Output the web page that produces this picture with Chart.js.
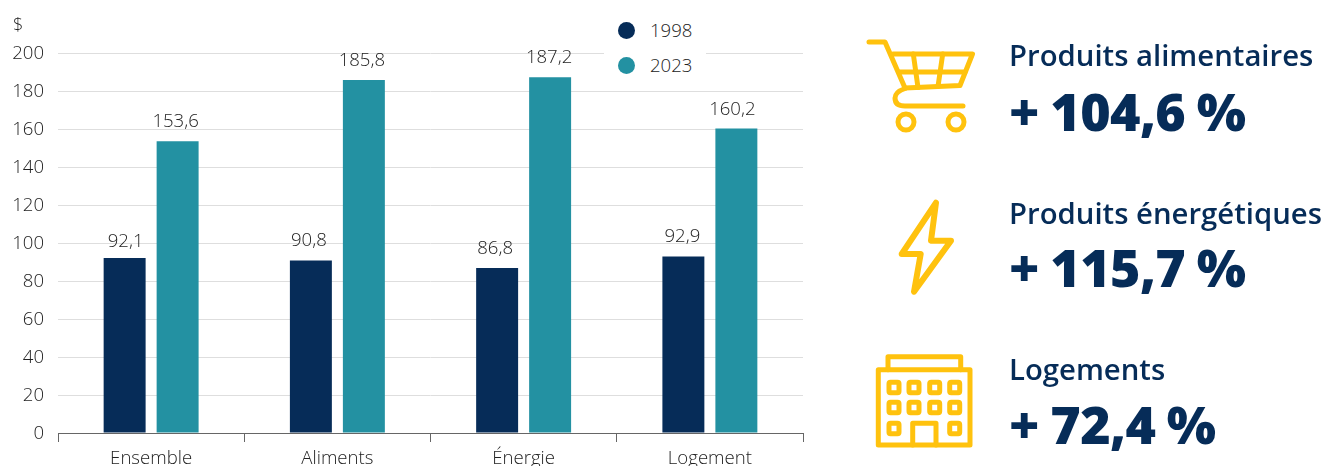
<!DOCTYPE html>
<html lang="fr">
<head>
<meta charset="utf-8">
<title>Prix 1998 et 2023</title>
<script src="https://cdn.jsdelivr.net/npm/chart.js@4"></script>
<style>
  html, body { margin: 0; padding: 0; background: #fff; width: 1325px; height: 466px; overflow: hidden; }
  body { position: relative; font-family: "Open Sans", sans-serif; }
  canvas { position: absolute; left: 0; top: 0; }
  .t { position: absolute; white-space: nowrap; line-height: 1; }
  .unit { left: 13px; top: 15px; font-size: 18px; font-weight: 300; color: #222; }
  .legend { position: absolute; left: 604px; top: 14px; width: 102px; height: 66px; background: #fff; }
  .legend i { position: absolute; left: 14px; width: 17px; height: 17px; border-radius: 50%; }
  .legend span { position: absolute; left: 46px; font-size: 18.6px; font-weight: 300; line-height: 1; color: #222; }
  .head { left: 1009px; font-size: 29.3px; font-weight: 600; color: #062c58; }
  .big { left: 1009px; font-size: 52px; font-weight: 800; word-spacing: -1.5px; letter-spacing: -0.6px; color: #062c58; }
  svg { position: absolute; left: 0; top: 0; }
  svg * { fill: none; stroke: #ffc20e; stroke-width: 5; stroke-linecap: round; stroke-linejoin: round; }
  svg .bolt { stroke-width: 6; }
</style>
</head>
<body>
<canvas id="chart" width="1325" height="466"></canvas>
<div class="t unit">$</div>
<div class="legend" id="legend"></div>

<svg width="1325" height="466" viewBox="0 0 1325 466">
  <!-- panier -->
  <path d="M869 42H885L905 88L960 85.5L972.5 54H893"/>
  <path d="M899 72H965M913.3 54L918 87.5M942.7 54L938 86.5"/>
  <path d="M905 88.5Q895 92 895 98Q895 106 905 106H963"/>
  <circle cx="906" cy="122" r="8"/>
  <circle cx="956" cy="122" r="8"/>
  <!-- éclair -->
  <path class="bolt" d="M936 202.7L931 240.7H951L914 291.7L920.7 254H901.7Z"/>
  <!-- immeuble -->
  <g>
    <path d="M878.3 369.7H970V445H878.3Z"/>
    <path d="M888 369.7V356.7H960.7V369.7"/>
    <rect x="889" y="382.3" width="10" height="10.4" rx="1.5"/>
    <rect x="909" y="382.3" width="10" height="10.4" rx="1.5"/>
    <rect x="929.7" y="382.3" width="10" height="10.4" rx="1.5"/>
    <rect x="949.7" y="382.3" width="10" height="10.4" rx="1.5"/>
    <rect x="889" y="402.3" width="10" height="10.4" rx="1.5"/>
    <rect x="909" y="402.3" width="10" height="10.4" rx="1.5"/>
    <rect x="929.7" y="402.3" width="10" height="10.4" rx="1.5"/>
    <rect x="949.7" y="402.3" width="10" height="10.4" rx="1.5"/>
    <rect x="889" y="423.3" width="10" height="10.4" rx="1.5"/>
    <rect x="949.7" y="423.3" width="10" height="10.4" rx="1.5"/>
    <path d="M912.7 445V423.3H936V445"/>
  </g>
</svg>

<div class="t head" style="top:41px">Produits alimentaires</div>
<div class="t big" style="top:85px">+ 104,6 %</div>
<div class="t head" style="top:199px">Produits énergétiques</div>
<div class="t big" style="top:241px">+ 115,7 %</div>
<div class="t head" style="top:355px">Logements</div>
<div class="t big" style="top:398px">+ 72,4 %</div>

<script>
const categories = ["Ensemble", "Aliments", "Énergie", "Logement"];
const seriesNames = ["1998", "2023"];
const values1998 = [92.1, 90.8, 86.8, 92.9];
const values2023 = [153.6, 185.8, 187.2, 160.2];
const seriesColors = ["#062c58", "#2391a2"];
const yTicks = [0, 20, 40, 60, 80, 100, 120, 140, 160, 180, 200];

const frenchNumber = v => v.toFixed(1).replace(".", ",");

// Décalage des étiquettes par rapport au sommet de leur barre.
const labelShiftX = [[1, -2, -2, -1], [-2, -2, -1, -4]];
const labelGap = [[11, 14, 14, 14], [14, 14, 14, 14]];

// Écrit la valeur de chaque barre juste au-dessus de celle-ci.
const barValues = {
  id: "barValues",
  afterDatasetsDraw(chart) {
    const { ctx } = chart;
    ctx.save();
    ctx.font = '300 18.6px "Open Sans"';
    ctx.fillStyle = "#222";
    ctx.textAlign = "center";
    ctx.textBaseline = "alphabetic";
    chart.data.datasets.forEach((ds, i) => {
      chart.getDatasetMeta(i).data.forEach((bar, j) => {
        ctx.fillText(frenchNumber(ds.data[j]), bar.x + labelShiftX[i][j], bar.y - labelGap[i][j]);
      });
    });
    ctx.restore();
  }
};

const chart = new Chart(document.getElementById("chart"), {
  type: "bar",
  data: {
    labels: categories,
    datasets: [
      { label: seriesNames[0], data: values1998, backgroundColor: seriesColors[0] },
      { label: seriesNames[1], data: values2023, backgroundColor: seriesColors[1] }
    ]
  },
  plugins: [barValues],
  options: {
    responsive: false,
    animation: false,
    layout: { padding: { left: 0, right: 522, top: 53, bottom: 0 } },
    datasets: { bar: { categoryPercentage: 0.569, barPercentage: 0.792 } },
    plugins: { legend: { display: false }, tooltip: { enabled: false } },
    scales: {
      x: {
        afterFit(scale) { scale.height = 33; },
        border: { color: "#666", width: 1 },
        grid: { offset: true, drawOnChartArea: false, drawTicks: true, tickLength: 9, color: "#666" },
        ticks: { font: { family: "Open Sans", size: 18.6, weight: 300 }, color: "#222", padding: 6, maxRotation: 0 }
      },
      y: {
        min: 0,
        max: 200,
        afterFit(scale) { scale.width = 58; },
        afterBuildTicks(scale) { scale.ticks = yTicks.map(value => ({ value })); },
        // Les chiffres sont centrés un peu plus bas sur leur graduation.
        afterUpdate(scale) {
          const compute = scale._computeLabelItems.bind(scale);
          scale._computeLabelItems = area => compute(area).map(item => ({ ...item, textOffset: item.textOffset + 0.5 }));
        },
        border: { display: false },
        grid: { color: "#dedede", lineWidth: 1, drawTicks: false },
        ticks: { font: { family: "Open Sans", size: 18.6, weight: 300 }, color: "#222", padding: 14 }
      }
    }
  }
});

// Légende à droite du graphique, construite depuis les séries.
const legend = document.getElementById("legend");
chart.data.datasets.forEach((ds, i) => {
  const top = 9 + i * 35;
  legend.insertAdjacentHTML("beforeend",
    `<i style="top:${top - 1}px;background:${ds.backgroundColor}"></i><span style="top:${top - 2}px">${ds.label}</span>`);
});
</script>
</body>
</html>
